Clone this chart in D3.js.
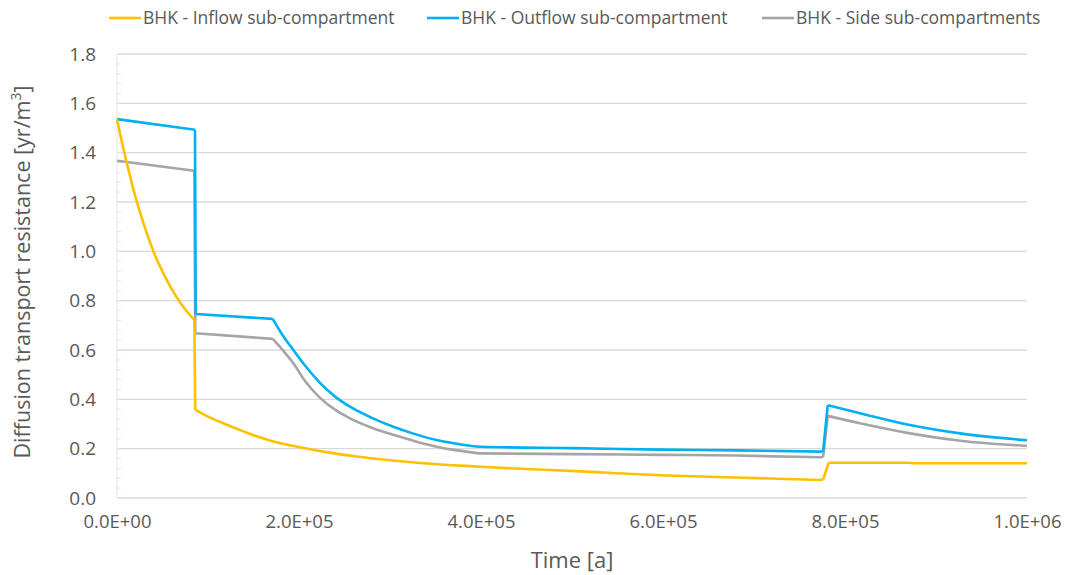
<!DOCTYPE html>
<html>
<head>
<meta charset="utf-8">
<script src="https://cdn.jsdelivr.net/npm/d3@7"></script>
<style>
  body { margin: 0; background: #fff; }
  svg { display: block; }
</style>
</head>
<body>
<div id="main"></div>
<script>
// values
const seriesNames = ["BHK - Inflow sub-compartment", "BHK - Outflow sub-compartment", "BHK - Side sub-compartments"];
const seriesColors = ["#FFC000", "#00B0F0", "#A5A5A5"];

const inflowTime = [0, 5000, 10000, 15000, 20000, 25000, 30000, 35000, 40000, 50000, 60000, 70000, 80000, 85000, 86000,
    100000, 116800, 135000, 153500, 175000, 201100, 230000, 263400, 300000, 336600, 399000, 428200,
    497800, 596700, 680000, 772500, 776000, 782000, 870000, 875000, 1000000];
const inflowValue = [1.536, 1.449, 1.370, 1.295, 1.225, 1.162, 1.103, 1.05, 1.0, 0.918, 0.848, 0.790, 0.742, 0.722, 0.357,
    0.330, 0.303, 0.276, 0.250, 0.226, 0.206, 0.186, 0.168, 0.153, 0.141, 0.127, 0.121,
    0.110, 0.092, 0.083, 0.073, 0.075, 0.143, 0.143, 0.141, 0.141];
// times where the line has a sharp corner
const inflowCorners = [85000, 86000, 772500, 776000, 782000, 870000, 875000];

const outflowTime = [0, 85700, 86500, 171100, 182000, 193800, 207000, 223100, 240000, 256000, 280000,
    303600, 325000, 351300, 370000, 389800, 398900, 500000, 596700, 680000, 774400, 776000, 781000,
    816500, 871400, 926400, 1000000];
const outflowValue = [1.536, 1.493, 0.746, 0.726, 0.66, 0.600, 0.535, 0.467, 0.41, 0.370, 0.325,
    0.289, 0.262, 0.235, 0.222, 0.211, 0.208, 0.202, 0.196, 0.193, 0.188, 0.190, 0.376,
    0.344, 0.296, 0.262, 0.234];
const outflowCorners = [85700, 86500, 171100, 389800, 774400, 776000, 781000];

const sideTime = [0, 85000, 86000, 171100, 182000, 193800, 207000, 223100, 240000, 256000, 280000,
    303600, 325000, 351300, 370000, 389800, 398900, 500000, 596700, 680000, 774400, 776000, 781000,
    816500, 871400, 926400, 1000000];
const sideValue = [1.367, 1.327, 0.668, 0.645, 0.60, 0.546, 0.472, 0.406, 0.357, 0.323, 0.285,
    0.256, 0.233, 0.208, 0.195, 0.185, 0.181, 0.178, 0.175, 0.172, 0.165, 0.167, 0.333,
    0.303, 0.262, 0.232, 0.211];
const sideCorners = [85000, 86000, 171100, 389800, 774400, 776000, 781000];

const yTicks = [0, 0.2, 0.4, 0.6, 0.8, 1.0, 1.2, 1.4, 1.6, 1.8];
const xTicks = [0, 200000, 400000, 600000, 800000, 1000000];

const width = 1066, height = 575;
const margin = {top: 54, right: 39, bottom: 77, left: 117};

const svg = d3.select("#main").append("svg")
    .attr("width", width)
    .attr("height", height);

const x = d3.scaleLinear().domain([0, 1000000]).range([margin.left, width - margin.right]);
const y = d3.scaleLinear().domain([0, 1.8]).range([height - margin.bottom, margin.top]);

const textColor = "#595959";
const font = "'Open Sans', 'DejaVu Sans', sans-serif";

// horizontal gridlines
svg.append("g")
    .selectAll("line")
    .data(yTicks)
    .enter()
    .append("line")
    .attr("x1", x(0))
    .attr("x2", x(1000000))
    .attr("y1", d => y(d))
    .attr("y2", d => y(d))
    .attr("stroke", "#d9d9d9")
    .attr("stroke-width", 1.3);

// faint vertical axis with minor ticks
svg.append("line")
    .attr("x1", x(0)).attr("x2", x(0))
    .attr("y1", y(0)).attr("y2", y(1.8))
    .attr("stroke", "#e3e3e3")
    .attr("stroke-width", 1);

svg.append("g")
    .selectAll("line")
    .data(d3.range(0, 1.8001, 0.04))
    .enter()
    .append("line")
    .attr("x1", x(0))
    .attr("x2", x(0) + 4)
    .attr("y1", d => y(d))
    .attr("y2", d => y(d))
    .attr("stroke", "#e6e6e6");

// y axis labels
const yAxis = d3.axisLeft(y).tickValues(yTicks).tickFormat(d3.format(".1f")).tickSize(0).tickPadding(21);
const gy = svg.append("g")
    .attr("transform", `translate(${x(0)},0)`)
    .call(yAxis);
gy.select(".domain").remove();
gy.selectAll("text")
    .attr("fill", textColor)
    .attr("font-family", font)
    .attr("font-size", 19);

// x axis labels
const sci = d => {
    if (d === 0) return "0.0E+00";
    const e = Math.floor(Math.log10(d));
    return (d / Math.pow(10, e)).toFixed(1) + "E+" + String(e).padStart(2, "0");
};
const xAxis = d3.axisBottom(x).tickValues(xTicks).tickFormat(sci).tickSize(0).tickPadding(17);
const gx = svg.append("g")
    .attr("transform", `translate(0,${y(0)})`)
    .call(xAxis);
gx.select(".domain").remove();
gx.selectAll("text")
    .attr("fill", textColor)
    .attr("font-family", font)
    .attr("font-size", 18.5);

// axis titles
svg.append("text")
    .attr("x", (x(0) + x(1000000)) / 2)
    .attr("y", 568)
    .attr("text-anchor", "middle")
    .attr("fill", textColor)
    .attr("font-family", font)
    .attr("font-size", 22)
    .text("Time [a]");

const yTitle = svg.append("text")
    .attr("transform", `translate(30,${(y(0) + y(1.8)) / 2 - 4}) rotate(-90)`)
    .attr("text-anchor", "middle")
    .attr("fill", textColor)
    .attr("font-family", font)
    .attr("font-size", 21.5);
yTitle.append("tspan").text("Diffusion transport resistance [yr/m");
yTitle.append("tspan").attr("baseline-shift", "super").attr("font-size", 14).text("3");
yTitle.append("tspan").text("]");

// split a series at its sharp corners, smooth curve inside each run
function runs(times, values, corners) {
    const out = [];
    let cur = [];
    times.forEach((t, i) => {
        cur.push([t, values[i]]);
        if (corners.includes(t) && i > 0 && i < times.length - 1) {
            out.push(cur);
            cur = [[t, values[i]]];
        }
    });
    out.push(cur);
    return out;
}

const series = [
    runs(inflowTime, inflowValue, inflowCorners),
    runs(outflowTime, outflowValue, outflowCorners),
    runs(sideTime, sideValue, sideCorners)
];
const line = d3.line()
    .curve(d3.curveMonotoneX)
    .x(d => x(d[0]))
    .y(d => y(d[1]));

// draw side first, then outflow, inflow on top
[2, 1, 0].forEach(i => {
    svg.append("path")
        .attr("d", series[i].map(r => line(r)).join(""))
        .attr("fill", "none")
        .attr("stroke", seriesColors[i])
        .attr("stroke-width", 2.6)
        .attr("stroke-linejoin", "round");
});

// legend
const legendX = [109, 427, 762];
const legend = svg.append("g")
    .selectAll("g")
    .data(seriesNames)
    .enter()
    .append("g")
    .attr("transform", (d, i) => `translate(${legendX[i]},18)`);
legend.append("line")
    .attr("x1", 0).attr("x2", 32)
    .attr("stroke", (d, i) => seriesColors[i])
    .attr("stroke-width", 2.6);
legend.append("text")
    .attr("x", 34)
    .attr("dy", "0.35em")
    .attr("fill", textColor)
    .attr("font-family", font)
    .attr("font-size", 17.5)
    .text(d => d);
</script>
</body>
</html>
